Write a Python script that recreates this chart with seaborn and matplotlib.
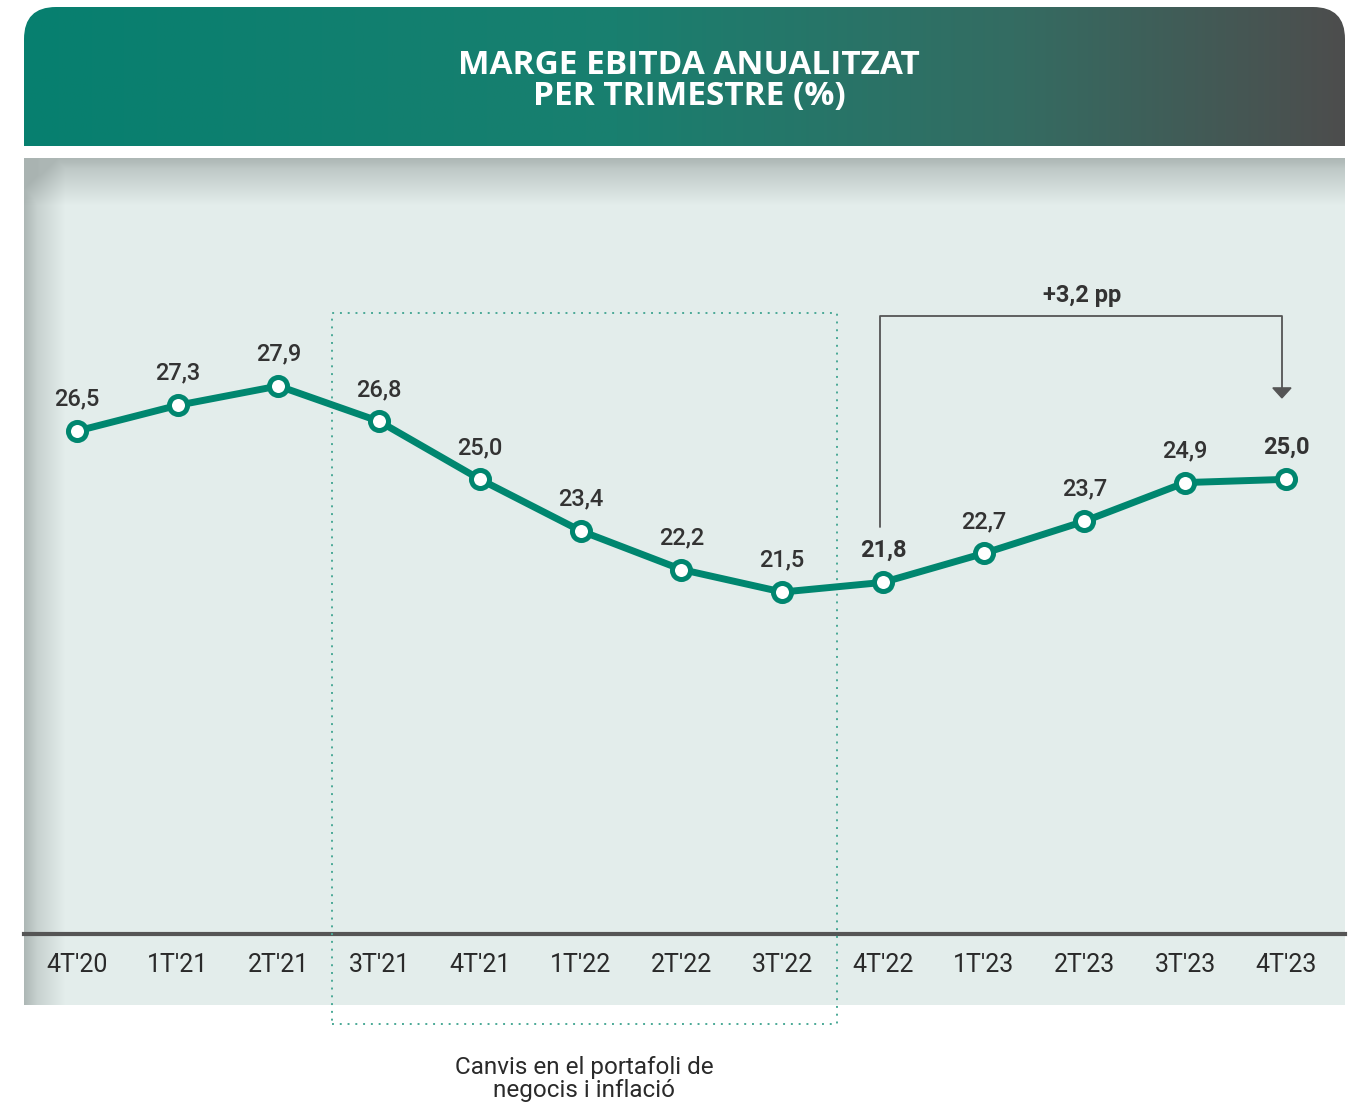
import numpy as np
import pandas as pd
import matplotlib.pyplot as plt
import seaborn as sns
from matplotlib.patches import FancyBboxPatch, Rectangle, Polygon

# Data
quarters = ["4T'20", "1T'21", "2T'21", "3T'21", "4T'21", "1T'22", "2T'22",
            "3T'22", "4T'22", "1T'23", "2T'23", "3T'23", "4T'23"]
margin = [26.5, 27.3, 27.9, 26.8, 25.0, 23.4, 22.2, 21.5, 21.8, 22.7, 23.7, 24.9, 25.0]
bold_labels = ["4T'22", "4T'23"]

title = "MARGE EBITDA ANUALITZAT\nPER TRIMESTRE (%)"
change_label = "+3,2 pp"
box_note = "Canvis en el portafoli de\nnegocis i inflació"

df = pd.DataFrame({"quarter": quarters, "margin": margin})
df["pos"] = range(len(df))

sns.set_style("white")
plt.rcParams['font.family'] = ['Roboto', 'DejaVu Sans']

W, H = 1353, 1104
fig = plt.figure(figsize=(W / 100, H / 100), dpi=100)


def frame(x0, y0, x1, y1):
    return [x0 / W, 1 - y1 / H, (x1 - x0) / W, (y1 - y0) / H]


teal = "#00866f"
dark = "#333333"

# header band with gradient
hx = fig.add_axes(frame(24, 7, 1345, 146))
hx.axis('off')
hw, hh = 1321, 139
t = np.linspace(0, 1, 400)
stops = [0, 0.45, 0.75, 1]
cols = np.array([[7, 128, 111], [25, 127, 111], [52, 108, 98], [77, 77, 77]]) / 255
grad = np.stack([np.interp(t, stops, cols[:, k]) for k in range(3)], axis=-1)[None, :, :]
im = hx.imshow(grad, extent=(0, hw, 0, hh), aspect='auto', interpolation='bilinear')
hx.set_xlim(0, hw)
hx.set_ylim(0, hh)
clip = FancyBboxPatch((0, -60), hw, hh + 60, boxstyle="round,pad=0,rounding_size=32",
                      transform=hx.transData, facecolor='none', edgecolor='none')
hx.add_patch(clip)
im.set_clip_path(clip)
hx.text(hw * 0.5035, hh * 0.47, title, ha='center', va='center', color='white',
        fontsize=24, fontweight='bold', family=['Open Sans', 'DejaVu Sans'],
        linespacing=0.92)

# panel background with soft shadow on top and left
bx = fig.add_axes(frame(24, 158, 1345, 1005))
bx.axis('off')
pw, ph = 1321, 847
bx.set_xlim(0, pw)
bx.set_ylim(ph, 0)
bx.add_patch(Rectangle((0, 0), pw, ph, facecolor='#e3edeb', edgecolor='none'))


def stacked_alpha(d, scale, peak):
    a_here = peak * np.exp(-d / scale)
    a_next = peak * np.exp(-(d + 1) / scale)
    return 1 - (1 - a_here) / (1 - a_next)


for k in range(60, -1, -1):
    bx.add_patch(Rectangle((0, 0), k + 1, ph, facecolor='#a9b3b1', edgecolor='none',
                           alpha=stacked_alpha(k, 11.0, 0.85)))
    bx.add_patch(Rectangle((0, 0), pw, k + 1, facecolor='#acb6b4', edgecolor='none',
                           alpha=stacked_alpha(k, 13.0, 0.9)))

# main chart axes
ax = fig.add_axes(frame(24, 158, 1345, 934))
ax.patch.set_alpha(0)
sns.lineplot(data=df, x="pos", y="margin", ax=ax, color=teal, linewidth=5,
             marker='o', markersize=13, markerfacecolor='white',
             markeredgecolor=teal, markeredgewidth=3.6, zorder=5)
ax.set_xlim(-0.526, 12.586)
ax.set_ylim(10.88, 34.98)
for s in ['top', 'left', 'right']:
    ax.spines[s].set_visible(False)
ax.spines['bottom'].set_linewidth(3)
ax.spines['bottom'].set_color('#555555')
ax.set_xticks(df["pos"])
ax.set_xticklabels(quarters, fontsize=18, fontweight='normal', color='#2a2a2a')
ax.tick_params(axis='x', length=0, pad=14)
ax.set_yticks([])
ax.set_xlabel('')
ax.set_ylabel('')

for _, r in df.iterrows():
    lab = f"{r['margin']:.1f}".replace('.', ',')
    ax.annotate(lab, (r['pos'], r['margin']), xytext=(0, 23), textcoords='offset points',
                ha='center', va='center', fontsize=17, color=dark,
                fontweight='bold' if r['quarter'] in bold_labels else 'medium')

# dotted box around the period with portfolio changes
ax.add_patch(Rectangle((2.531, 8.09), 7.543 - 2.531, 30.17 - 8.09, fill=False,
                       edgecolor='#4aa996', linestyle=(0, (1, 3)), linewidth=1.4,
                       clip_on=False, zorder=3))
fig.text(584 / W, 1 - 1079 / H, box_note, ha='center', va='center', fontsize=17.5,
         fontweight='normal', color='#2a2a2a', linespacing=1.0)

# bracket showing the change from 4T'22 to 4T'23
bc = '#555555'
ax.plot([7.97, 7.97, 11.96, 11.96], [23.52, 30.07, 30.07, 27.84], color=bc,
        linewidth=1.3, zorder=4)
ax.add_patch(Polygon([(11.87, 27.84), (12.05, 27.84), (11.96, 27.53)], closed=True,
                     facecolor=bc, edgecolor=bc, zorder=4))
ax.text(9.98, 30.7, change_label, ha='center', va='center', fontsize=17,
        fontweight='bold', color=dark)

fig.savefig("out.png", dpi=100)
